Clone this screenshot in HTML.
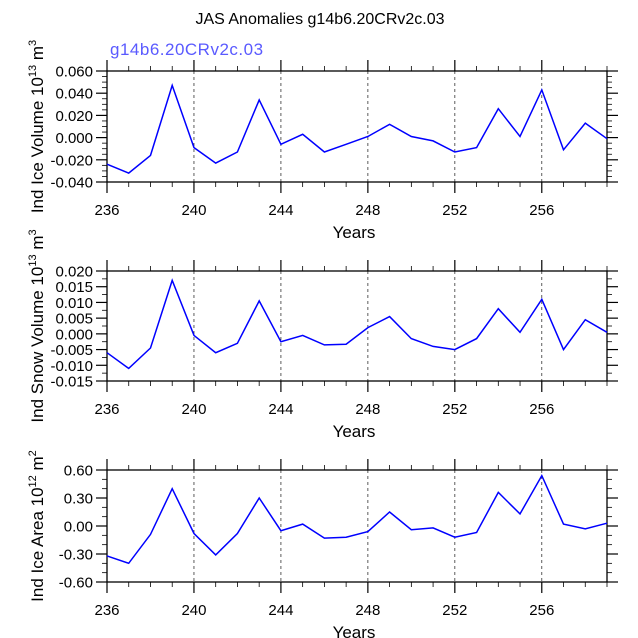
<!DOCTYPE html>
<html><head><meta charset="utf-8"><style>
html,body{margin:0;padding:0;background:#fff;}
svg{display:block;font-family:"Liberation Sans",Helvetica,Arial,sans-serif;}
</style></head><body>
<svg id="chart" width="638" height="638" viewBox="0 0 638 638" xmlns="http://www.w3.org/2000/svg">
<text x="320" y="24" font-size="16" text-anchor="middle">JAS Anomalies g14b6.20CRv2c.03</text>
<text x="110" y="55" font-size="17" fill="#5a5aff" letter-spacing="0.5">g14b6.20CRv2c.03</text>
</svg>
<script>
const years = [236,237,238,239,240,241,242,243,244,245,246,247,248,249,250,251,252,253,254,255,256,257,258,259];
const iceVolume = [-0.024,-0.032,-0.016,0.047,-0.009,-0.023,-0.013,0.034,-0.006,0.003,-0.013,-0.006,0.001,0.012,0.001,-0.003,-0.013,-0.009,0.026,0.001,0.043,-0.011,0.013,-0.001];
const snowVolume = [-0.006,-0.011,-0.0045,0.017,-0.0005,-0.006,-0.003,0.0105,-0.0025,-0.0005,-0.0035,-0.0033,0.002,0.0055,-0.0015,-0.004,-0.005,-0.0015,0.008,0.0005,0.011,-0.005,0.0045,0.0005];
const iceArea = [-0.32,-0.40,-0.09,0.40,-0.08,-0.31,-0.08,0.30,-0.05,0.02,-0.13,-0.12,-0.06,0.15,-0.04,-0.02,-0.12,-0.07,0.36,0.13,0.54,0.02,-0.03,0.03];
const xTickLabels = [236,240,244,248,252,256];
const iceVolTicks = [0.06,0.04,0.02,0,-0.02,-0.04];
const snowVolTicks = [0.02,0.015,0.01,0.005,0,-0.005,-0.01,-0.015];
const areaTicks = [0.6,0.3,0,-0.3,-0.6];

const NS="http://www.w3.org/2000/svg";
const svg=document.getElementById('chart');
function mk(tag,attrs,parent){const e=document.createElementNS(NS,tag);for(const k in attrs)e.setAttribute(k,attrs[k]);(parent||svg).appendChild(e);return e;}
const X0=107,X1=607,xMin=236,xMax=259;
function xs(v){return X0+(v-xMin)/(xMax-xMin)*(X1-X0);}

function panel(name,top,bot,yMin,yMax,ticks,minorStep,dec,data,labelMain,exp,unit){
  const g=mk('g',{});
  
  
  const ys=v=>bot-(v-yMin)/(yMax-yMin)*(bot-top);
  xTickLabels.forEach(t=>{if(t>xMin){const l=mk('line',{x1:xs(t),x2:xs(t),y1:top,y2:bot,stroke:'#333','stroke-width':0.8,'stroke-dasharray':'3,3'},g);
    
    }});
  for(let yr=xMin;yr<=xMax;yr++){const major=(yr-236)%4===0;const len=major?11:5;
    mk('line',{x1:xs(yr),x2:xs(yr),y1:bot,y2:bot+len,stroke:'#000','stroke-width':major?1.2:0.8},g);
    mk('line',{x1:xs(yr),x2:xs(yr),y1:top,y2:top-len,stroke:'#000','stroke-width':major?1.2:0.8},g);}
  xTickLabels.forEach(t=>{const tx=mk('text',{x:xs(t),y:bot+33,'font-size':15,'text-anchor':'middle'},g);tx.textContent=t;
    
    });
  const n=Math.round((yMax-yMin)/minorStep);
  for(let i=0;i<=n;i++){const v=yMin+i*minorStep;const major=ticks.some(t=>Math.abs(t-v)<1e-9);const len=major?11:5;
    mk('line',{x1:X0,x2:X0-len,y1:ys(v),y2:ys(v),stroke:'#000','stroke-width':major?1.2:0.8},g);
    mk('line',{x1:X1,x2:X1+len,y1:ys(v),y2:ys(v),stroke:'#000','stroke-width':major?1.2:0.8},g);}
  ticks.forEach(t=>{const tx=mk('text',{x:X0-14,y:ys(t)+5.5,'font-size':15,'text-anchor':'end'},g);tx.textContent=t.toFixed(dec);
    
    });
  const fr=mk('rect',{x:X0,y:top,width:X1-X0,height:bot-top,fill:'none',stroke:'#000','stroke-width':1.3},g);
  
  
  const pts=years.map((y,i)=>xs(y).toFixed(1)+','+ys(data[i]).toFixed(1)).join(' ');
  const pl=mk('polyline',{points:pts,fill:'none',stroke:'#0000ff','stroke-width':1.5},g);
  
  
  const xt=mk('text',{x:(X0+X1)/2-3,y:bot+56,'font-size':17,'text-anchor':'middle'},g);xt.textContent='Years';
  
  
  const cy=(top+bot)/2;
  const yt=mk('text',{transform:`translate(43,${cy}) rotate(-90)`,'font-size':17,'text-anchor':'middle'},g);
  
  
  yt.innerHTML=`${labelMain} 10<tspan dy="-7" font-size="11">${exp}</tspan><tspan dy="7"> m</tspan><tspan dy="-7" font-size="11">${unit}</tspan>`;
}
panel('ice-volume',71,182,-0.04,0.06,iceVolTicks,0.005,3,iceVolume,'Ind Ice Volume','13','3');
panel('snow-volume',271,381,-0.015,0.02,snowVolTicks,0.0025,3,snowVolume,'Ind Snow Volume','13','3');
panel('ice-area',470,582,-0.6,0.6,areaTicks,0.1,2,iceArea,'Ind Ice Area','12','2');
</script>
</body></html>
